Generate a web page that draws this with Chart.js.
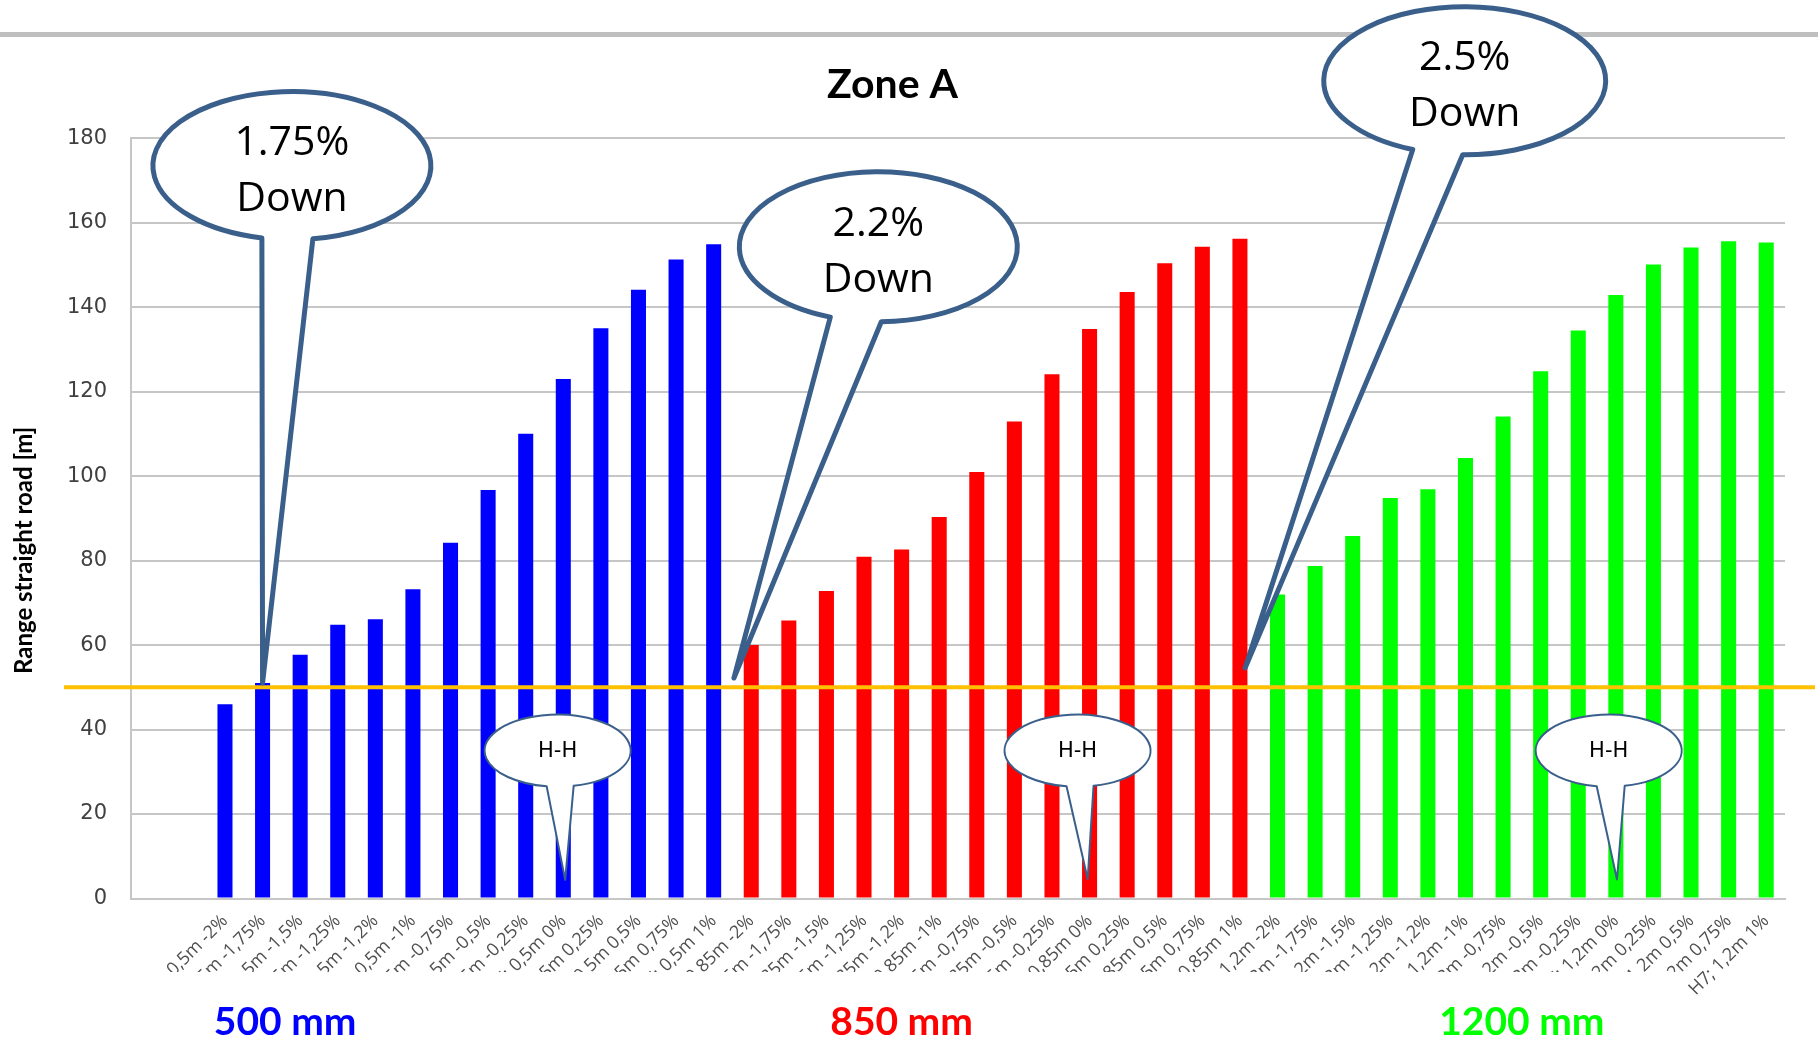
<!DOCTYPE html>
<html>
<head>
<meta charset="utf-8">
<title>Zone A</title>
<script src="https://cdn.jsdelivr.net/npm/chart.js@4.4.1/dist/chart.umd.min.js"></script>
<style>
  html, body { margin: 0; padding: 0; background: #fff; }
  #wrap { width: 1818px; height: 1043px; position: relative; }
</style>
</head>
<body>
<div id="wrap"><canvas id="zoneA"></canvas></div>
<script>
// category labels: H7 mounting height + road grade
var heights = ['0,5m', '0,85m', '1,2m'];
var grades = ['-2%', '-1,75%', '-1,5%', '-1,25%', '-1,2%', '-1%', '-0,75%', '-0,5%', '-0,25%', '0%', '0,25%', '0,5%', '0,75%', '1%'];
var yTicks = [0, 20, 40, 60, 80, 100, 120, 140, 160, 180];

// range straight road [m]
var range500 = [46, 51, 57.7, 64.8, 66.1, 73.2, 84.2, 96.7, 110, 123, 135, 144.1, 151.3, 154.9];
var range850 = [60, 65.8, 72.8, 80.9, 82.6, 90.3, 101, 112.9, 124.1, 134.8, 143.6, 150.4, 154.3, 156.2];
var range1200 = [72, 78.7, 85.8, 94.8, 96.9, 104.3, 114.1, 124.8, 134.5, 142.9, 150.1, 154.1, 155.6, 155.3];
var limit = 50;

var groupNames = ['500 mm', '850 mm', '1200 mm'];
var groupColors = ['#0000ff', '#ff0000', '#00ff00'];

var labels = ['', ''];
heights.forEach(function(h) {
    grades.forEach(function(g) { labels.push('H7; ' + h + ' ' + g); });
});

function pad(values, group) {
    var out = [null, null];
    for (var k = 0; k < 3; k++) {
        for (var j = 0; j < grades.length; j++) out.push(k === group ? values[j] : null);
    }
    return out;
}

// callouts: centre / tip in scale units, ellipse size and base offsets in px
var callouts = [
    { x: 3.78, y: 173.5, rx: 139, ry: 74, baseL: -30, baseR: 21, tipX: 3, tipY: 51, lines: ['1.75%', 'Down'] },
    { x: 19.38, y: 154.3, rx: 139, ry: 75, baseL: -48, baseR: 3, tipX: 15.54, tipY: 52.2, lines: ['2.2%', 'Down'] },
    { x: 34.98, y: 193.6, rx: 141, ry: 74, baseL: -52, baseR: -2, tipX: 29.14, tipY: 54.6, lines: ['2.5%', 'Down'] }
];
var hhCallouts = [
    { x: 10.85, y: 35, rx: 73, ry: 36, baseL: -11, baseR: 16, tipX: 11.05, tipY: 4.4, lines: ['H-H'] },
    { x: 24.68, y: 35, rx: 73, ry: 36, baseL: -11, baseR: 16, tipX: 24.95, tipY: 4.6, lines: ['H-H'] },
    { x: 38.81, y: 35, rx: 73, ry: 36, baseL: -12, baseR: 16, tipX: 39.03, tipY: 4.5, lines: ['H-H'] }
];
var groupLabelPos = [3.6, 20.0, 36.5];

function drawCallout(ctx, c, xs, ys, lw, font, offsets) {
    var cx = xs.getPixelForValue(c.x), cy = ys.getPixelForValue(c.y);
    var tx = xs.getPixelForValue(c.tipX), ty = ys.getPixelForValue(c.tipY);
    var a1 = Math.acos(c.baseR / c.rx);
    var a2 = Math.acos(c.baseL / c.rx);
    ctx.save();
    ctx.beginPath();
    ctx.ellipse(cx, cy, c.rx, c.ry, 0, a1, a2, true);
    ctx.lineTo(tx, ty);
    ctx.closePath();
    ctx.fillStyle = '#ffffff';
    ctx.fill();
    ctx.lineWidth = lw;
    ctx.lineJoin = 'round';
    ctx.strokeStyle = '#3a5f8b';
    ctx.stroke();
    ctx.fillStyle = '#000000';
    ctx.font = font;
    ctx.textAlign = 'center';
    ctx.textBaseline = 'middle';
    c.lines.forEach(function(t, i) { ctx.fillText(t, cx, cy + offsets[i]); });
    ctx.restore();
}

var extras = {
    id: 'extras',
    beforeDraw: function(chart) {
        var ctx = chart.ctx;
        ctx.save();
        ctx.fillStyle = '#bfbfbf';
        ctx.fillRect(0, 32, chart.width, 5);
        ctx.restore();
    },
    afterDatasetsDraw: function(chart) {
        var ctx = chart.ctx, a = chart.chartArea;
        var y = chart.scales.y.getPixelForValue(limit);
        ctx.save();
        ctx.strokeStyle = '#ffc000';
        ctx.lineWidth = 4;
        ctx.beginPath();
        ctx.moveTo(a.left - 67, y);
        ctx.lineTo(a.right + 30, y);
        ctx.stroke();
        ctx.restore();
    },
    afterDraw: function(chart) {
        var ctx = chart.ctx, a = chart.chartArea;
        var xs = chart.scales.x, ys = chart.scales.y;

        // the tick labels are cut off under the axis, except the last one
        var lastX = xs.getPixelForValue(labels.length - 1);
        ctx.save();
        ctx.fillStyle = '#ffffff';
        ctx.fillRect(0, 972, lastX - 80, chart.height - 972);
        ctx.restore();

        groupNames.forEach(function(name, i) {
            ctx.save();
            ctx.fillStyle = groupColors[i];
            ctx.font = 'bold 39px Lato';
            ctx.textAlign = 'center';
            ctx.textBaseline = 'middle';
            ctx.fillText(name, xs.getPixelForValue(groupLabelPos[i]), chart.height - 21);
            ctx.restore();
        });

        // y axis title
        ctx.save();
        ctx.translate(24, (a.top + a.bottom) / 2 + 32);
        ctx.rotate(-Math.PI / 2);
        ctx.fillStyle = '#000000';
        ctx.font = 'bold 24px Lato';
        ctx.textAlign = 'center';
        ctx.textBaseline = 'middle';
        ctx.fillText('Range straight road [m]', 0, 0);
        ctx.restore();

        hhCallouts.forEach(function(c) {
            drawCallout(ctx, c, xs, ys, 2, '21px "DejaVu Sans"', [1]);
        });
        callouts.forEach(function(c) {
            drawCallout(ctx, c, xs, ys, 5, '41px "Open Sans"', [-22, 34]);
        });
    }
};

var ctx = document.getElementById('zoneA').getContext('2d');

var myChart = new Chart(ctx, {
    type: 'bar',
    data: {
        labels: labels,
        datasets: groupNames.map(function(name, i) {
            return {
                label: name,
                data: pad([range500, range850, range1200][i], i),
                backgroundColor: groupColors[i],
                borderWidth: 0,
                barPercentage: 0.4,
                categoryPercentage: 1,
                grouped: false
            };
        })
    },
    options: {
        responsive: true,
        maintainAspectRatio: false,
        animation: false,
        layout: { padding: { left: 0, right: 33, top: 0, bottom: 0 } },
        plugins: {
            legend: { display: false },
            tooltip: { enabled: false },
            title: {
                display: true,
                text: 'Zone A',
                color: '#000000',
                font: { family: 'Lato', size: 41, weight: 'bold' },
                padding: { top: 60, bottom: 29 }
            }
        },
        scales: {
            x: {
                grid: { display: false },
                border: { color: '#c6c6c6', width: 2 },
                ticks: {
                    autoSkip: false,
                    minRotation: 45,
                    maxRotation: 45,
                    padding: 4,
                    color: '#505050',
                    font: { family: 'Open Sans', size: 18 }
                },
                afterFit: function(scale) { scale.height = 144.5; }
            },
            y: {
                min: yTicks[0],
                max: yTicks[yTicks.length - 1],
                afterBuildTicks: function(scale) {
                    scale.ticks = yTicks.map(function(v) { return { value: v }; });
                },
                grid: { color: '#c6c6c6', lineWidth: 2, drawTicks: false },
                border: { color: '#c6c6c6', width: 2 },
                ticks: {
                    padding: 24,
                    color: '#404040',
                    font: { family: 'DejaVu Sans', size: 21 }
                },
                afterFit: function(scale) { scale.width = 131; }
            }
        }
    },
    plugins: [extras]
});
</script>
</body>
</html>
